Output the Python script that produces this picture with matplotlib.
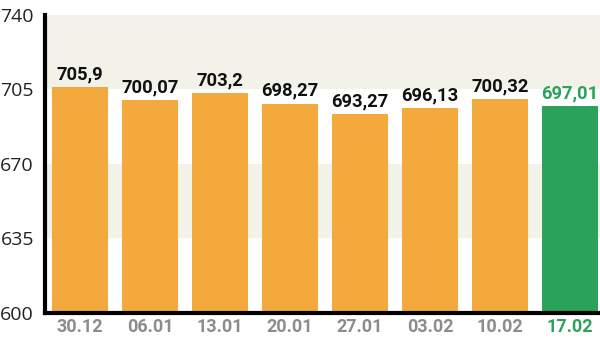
import matplotlib
matplotlib.use("Agg")
import matplotlib.pyplot as plt

categories = ["30.12", "06.01", "13.01", "20.01", "27.01", "03.02", "10.02", "17.02"]
values = [705.9, 700.07, 703.2, 698.27, 693.27, 696.13, 700.32, 697.01]
labels = ["705,9", "700,07", "703,2", "698,27", "693,27", "696,13", "700,32", "697,01"]
yticks = [600, 635, 670, 705, 740]

orange = "#f3a93c"
green = "#2ba25b"
beige = "#f3f2e9"
colors = [orange] * 7 + [green]

fig = plt.figure(figsize=(6, 3.45), dpi=100)
ax = fig.add_axes([0.075, 0.093, 0.925, 0.864])
ax.set_xlim(-0.5, 7.43)
ax.set_ylim(600, 740)

ax.axhspan(705, 740, color=beige, zorder=0, lw=0)
ax.axhspan(635, 670, color=beige, zorder=0, lw=0)

x = list(range(len(categories)))
ax.bar(x, [v - 600 for v in values], bottom=600, width=0.8, color=colors, zorder=2)

fam = ["Roboto", "DejaVu Sans"]
for i, (v, lab) in enumerate(zip(values, labels)):
    ax.text(i, v + 1.8, lab, ha="center", va="bottom", fontsize=13.2, fontweight="bold",
            family=fam, color=(green if i == 7 else "#111111"), zorder=3)

ax.set_yticks(yticks)
ax.set_yticklabels([str(t) for t in yticks], fontsize=14, family=["Open Sans", "DejaVu Sans"], color="#222222")
ax.set_xticks(x)
ax.set_xticklabels(categories, fontsize=13, fontweight="bold", family=fam)
for i, t in enumerate(ax.get_xticklabels()):
    t.set_color(green if i == 7 else "#8c8c8c")

ax.tick_params(axis="both", length=0)
ax.tick_params(axis="y", pad=8)
ax.tick_params(axis="x", pad=4)
for s in ["top", "right"]:
    ax.spines[s].set_visible(False)
ax.spines["left"].set_linewidth(3)
ax.spines["bottom"].set_linewidth(3)
ax.spines["left"].set_color("black")
ax.spines["bottom"].set_color("black")

fig.savefig("out.png", dpi=100)
